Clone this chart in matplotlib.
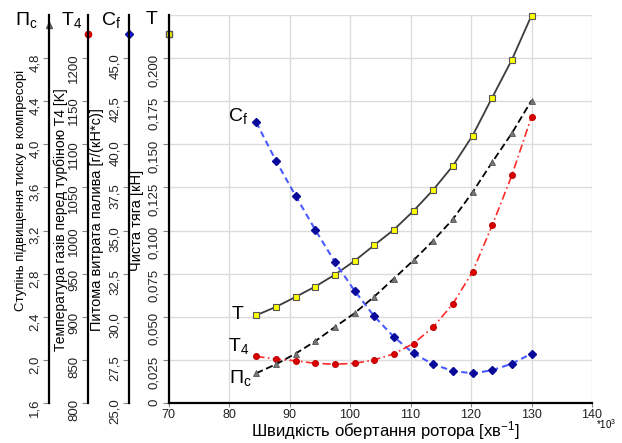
import numpy as np
import matplotlib

matplotlib.use("Agg")
import matplotlib.pyplot as plt
from matplotlib.ticker import FuncFormatter

# rotor speed, *10^3 rpm
rpm = [84.5, 87.75, 91, 94.25, 97.5, 100.75, 104, 107.25, 110.5, 113.75, 117, 120.25, 123.5, 126.75, 130]
# net thrust, kN
thrust = [0.0509, 0.0557, 0.0615, 0.0675, 0.0744, 0.0824, 0.0915, 0.1005,
          0.1114, 0.1236, 0.1375, 0.1550, 0.1771, 0.1990, 0.2247]
# compressor pressure ratio
pc = [1.876, 1.959, 2.058, 2.173, 2.305, 2.433, 2.587, 2.754,
      2.924, 3.106, 3.305, 3.555, 3.834, 4.103, 4.406]
# turbine inlet temperature, K
t4 = [854, 851, 849, 846, 845, 846, 850, 857, 869, 888, 915, 952, 1006, 1064, 1132]
# specific fuel consumption, g/(kN*s)
cf = [41.28, 39.05, 37.02, 35.05, 33.18, 31.51, 30.03, 28.83,
      27.88, 27.24, 26.86, 26.72, 26.90, 27.28, 27.86]

plt.rcParams["font.family"] = ["Liberation Sans", "DejaVu Sans"]
plt.rcParams["mathtext.default"] = "regular"

W, H = 622, 443


def fx(px):
    return px / W


def fy(py):
    return 1 - py / H


def comma(fmt):
    return FuncFormatter(lambda v, _: "0" if v == 0 else format(v, fmt).replace(".", ","))


fig = plt.figure(figsize=(W / 100, H / 100), dpi=100)
ax = fig.add_axes([fx(168.5), 40 / H, 423.5 / W, 388 / H])


def setup_left(a, pos, lim, ticks, fmt):
    a.set_ylim(*lim)
    a.set_yticks(ticks)
    a.yaxis.set_major_formatter(comma(fmt))
    for s in ("top", "bottom", "right"):
        a.spines[s].set_visible(False)
    a.spines["left"].set_visible(True)
    a.spines["left"].set_position(("axes", pos))
    a.spines["left"].set_linewidth(1.6)
    a.yaxis.set_ticks_position("left")
    a.tick_params(axis="y", left=True, right=False, labelleft=True, labelright=False,
                  length=4, width=0.8, color="#888888", pad=2,
                  labelrotation=90, labelsize=9.5, labelcolor="#222222")


# thrust axis = main axes
ax.set_xlim(70, 140)
ax.set_xticks(range(70, 141, 10))
setup_left(ax, 0, (0, 0.225), np.arange(0, 0.2001, 0.025), ".3f")
ax.spines["bottom"].set_visible(True)
ax.spines["bottom"].set_linewidth(1.6)
ax.tick_params(axis="x", length=3, color="#888888", pad=1, labelsize=9, labelcolor="#222222")
ax.grid(color="#dcdcdc", lw=1)
ax.axhline(0.225, color="#dcdcdc", lw=1)
ax.set_axisbelow(True)

ax_cf = ax.twinx()
setup_left(ax_cf, -0.0926, (25, 47.5), np.arange(25, 45.01, 2.5), ".1f")
ax_t4 = ax.twinx()
setup_left(ax_t4, -0.1894, (800, 1250), np.arange(800, 1201, 50), ".0f")
ax_pc = ax.twinx()
setup_left(ax_pc, -0.2815, (1.6, 5.2), np.arange(1.6, 4.81, 0.4), ".1f")

# curves
ax.plot(rpm, thrust, color="#3c3c3c", lw=1.3, marker="s", ms=4.5,
        mfc="#ffff00", mec="#555555", mew=0.8, clip_on=False)
ax_pc.plot(rpm, pc, color="black", lw=1.3, ls=(0, (4, 2)), marker="^", ms=4.5,
           mfc="#777777", mec="#555555", mew=0.6, clip_on=False)
ax_t4.plot(rpm, t4, color="#ff2a2a", lw=1.2, ls=(0, (5, 2, 1, 2)), marker="o", ms=4,
           mfc="#e00000", mec="#c00000", clip_on=False)
ax_cf.plot(rpm, cf, color="#4a5bff", lw=1.5, ls=(0, (3, 2)), marker="D", ms=3.6,
           mfc="#0a0a9a", mec="#0a0a9a", clip_on=False)

# curve names next to first points
ax_cf.annotate("$C_f$", xy=(rpm[0], cf[0]), xytext=(-8, 6), textcoords="offset pixels",
               ha="right", va="center", fontsize=14)
ax.annotate("T", xy=(rpm[0], thrust[0]), xytext=(-13, 1), textcoords="offset pixels",
            ha="right", va="center", fontsize=14)
ax_t4.annotate("$T_4$", xy=(rpm[0], t4[0]), xytext=(-7, 10), textcoords="offset pixels",
               ha="right", va="center", fontsize=14)
ax_pc.annotate("$П_c$", xy=(rpm[0], pc[0]), xytext=(-5, -5), textcoords="offset pixels",
               ha="right", va="center", fontsize=14)

# axis names on top of the spines
fig.text(fx(26), fy(20), "$П_c$", ha="center", va="center", fontsize=14)
fig.text(fx(72), fy(20), "$T_4$", ha="center", va="center", fontsize=14)
fig.text(fx(111), fy(20), "$C_f$", ha="center", va="center", fontsize=14)
fig.text(fx(152), fy(19), "T", ha="center", va="center", fontsize=14)

# small series markers at the top of each spine
ax.plot([-0.2815], [0.974], transform=ax.transAxes, clip_on=False, marker="^", ms=5,
        mfc="#777777", mec="#555555", ls="none")
ax.plot([-0.1894], [0.951], transform=ax.transAxes, clip_on=False, marker="o", ms=4.5,
        mfc="#ff0000", mec="#c00000", ls="none")
ax.plot([-0.0926], [0.951], transform=ax.transAxes, clip_on=False, marker="D", ms=4,
        mfc="#1a1aff", mec="#0a0a9a", ls="none")
ax.plot([0], [0.951], transform=ax.transAxes, clip_on=False, marker="s", ms=5,
        mfc="#ffff00", mec="#555555", ls="none")

# axis labels
fig.text(fx(21), fy(190), "Ступінь підвищення тиску в компресорі", rotation=90,
         ha="center", va="center", fontsize=9.5)
fig.text(fx(61), fy(220), "Температура газів перед турбіною T4 [K]", rotation=90,
         ha="center", va="center", fontsize=10)
fig.text(fx(97), fy(220), "Питома витрата палива [г/(кН*с)]", rotation=90,
         ha="center", va="center", fontsize=10.5)
fig.text(fx(137), fy(220), "Чиста тяга [кН]", rotation=90,
         ha="center", va="center", fontsize=10.5)
fig.text(fx(385), fy(431), "Швидкість обертання ротора [хв$^{-1}$]",
         ha="center", va="center", fontsize=12)
fig.text(fx(596), fy(424), "*10$^3$", ha="left", va="center", fontsize=7)

fig.savefig("out.png", dpi=100)
